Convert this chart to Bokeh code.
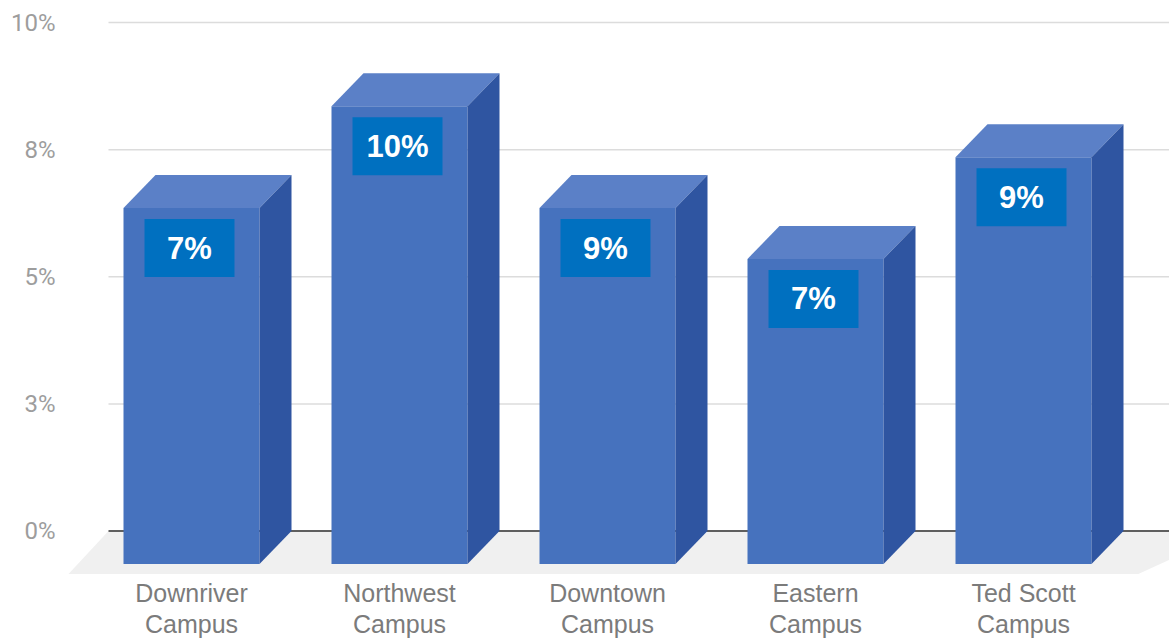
from bokeh.plotting import figure
from bokeh.models import Range1d, FixedTicker, ColumnDataSource
from bokeh.core.properties import value
from bokeh.embed import file_html
from bokeh.resources import INLINE

# ---------------- data ----------------
categories = ["Downriver\nCampus", "Northwest\nCampus", "Downtown\nCampus",
              "Eastern\nCampus", "Ted Scott\nCampus"]
bar_values = [7, 9, 7, 6, 8]                  # percent (bar heights)
value_labels = ["7%", "10%", "9%", "7%", "9%"]  # text shown in the blue boxes
y_ticks = [0, 2.5, 5, 7.5, 10]
y_tick_labels = ["0%", "3%", "5%", "8%", "10%"]

# ---------------- layout constants (pixels) ----------------
W, H = 1169, 641
LEFT = 65
PX_X = 208.0          # pixels per category step
PX_Y = 50.85          # pixels per percent
X0 = -126.0 / PX_X
X1 = X0 + (W - LEFT) / PX_X
Y1 = 10 + 22.0 / PX_Y
Y0 = -(H - 530.5) / PX_Y

HW = 68.0 / PX_X      # half width of front face
DX = 32.0 / PX_X      # 3d depth, horizontal
DY = 33.0 / PX_Y      # 3d depth, vertical
GRID_X0 = X0 + 43.0 / PX_X

FRONT = "#4672be"
TOP = "#5b80c7"
SIDE = "#2f55a1"
BOX = "#0070c0"

p = figure(width=W, height=H, output_backend="svg", toolbar_location=None,
           x_range=Range1d(X0, X1), y_range=Range1d(Y0, Y1),
           min_border_left=LEFT, min_border_right=0, min_border_top=0,
           min_border_bottom=0)
p.outline_line_color = None
p.xgrid.grid_line_color = None
p.ygrid.grid_line_color = None
p.xaxis.visible = False
p.background_fill_color = "white"
p.border_fill_color = "white"

ya = p.yaxis[0]
ya.ticker = FixedTicker(ticks=y_ticks)
ya.major_label_overrides = {t: l for t, l in zip(y_ticks, y_tick_labels)}
ya.axis_line_color = None
ya.major_tick_out = 0
ya.major_tick_in = 0
ya.minor_tick_out = 0
ya.minor_tick_in = 0
ya.major_label_standoff = 10
ya.major_label_text_font = "Roboto"
ya.major_label_text_font_size = "24px"
ya.major_label_text_color = "#9d9d9d"

# floor
FD = 43.0 / PX_Y
FX = 40.0 / PX_X
p.patch([GRID_X0, X1 + 0.3, X1 - 0.15, GRID_X0 - FX],
        [0, 0, -FD, -FD], fill_color="#f0f0f0", line_color=None)

# gridlines
grid_y = [t for t in y_ticks if t != 0]
p.segment(x0=[GRID_X0] * len(grid_y), y0=grid_y, x1=[X1] * len(grid_y), y1=grid_y,
          line_color="#dcdcdc", line_width=1.5)
p.segment(x0=[GRID_X0], y0=[0], x1=[X1], y1=[0], line_color="#5f5f5f", line_width=2)

# bars
xs = list(range(len(bar_values)))
front_l = [i - HW for i in xs]
front_r = [i + HW for i in xs]
p.quad(left=front_l, right=front_r, bottom=[-DY] * len(xs),
       top=[v - DY for v in bar_values], fill_color=FRONT, line_color=None)

top_xs = [[i - HW, i + HW, i + HW + DX, i - HW + DX] for i in xs]
top_ys = [[v - DY, v - DY, v, v] for v in bar_values]
p.patches(top_xs, top_ys, fill_color=TOP, line_color=None)

side_xs = [[i + HW, i + HW + DX, i + HW + DX, i + HW] for i in xs]
side_ys = [[v - DY, v, 0, -DY] for v in bar_values]
p.patches(side_xs, side_ys, fill_color=SIDE, line_color=None)

# value label boxes
BOX_W = 90.0 / PX_X
BOX_H = 58.0 / PX_Y
box_y = [v - DY - (11.0 + 29.0) / PX_Y for v in bar_values]
src = ColumnDataSource(dict(x=[i - 2.0 / PX_X for i in xs], y=box_y, t=value_labels))
p.rect(x="x", y="y", width=BOX_W, height=BOX_H, source=src,
       fill_color=BOX, line_color=None)
p.text(x="x", y="y", text="t", source=src, text_color="white",
       text_font=value("Liberation Sans"), text_font_style="bold",
       text_font_size="31px", text_align="center", text_baseline="middle")

# category labels
lab_y = -(578.0 - 530.5) / PX_Y
p.text(x=xs, y=[lab_y] * len(xs), text=categories, text_color="#7b7b7b",
       text_font=value("Liberation Sans"), text_font_size="25px",
       text_align="center", text_baseline="top", text_line_height=1.13)

open("out.html", "w").write(file_html(p, INLINE))
